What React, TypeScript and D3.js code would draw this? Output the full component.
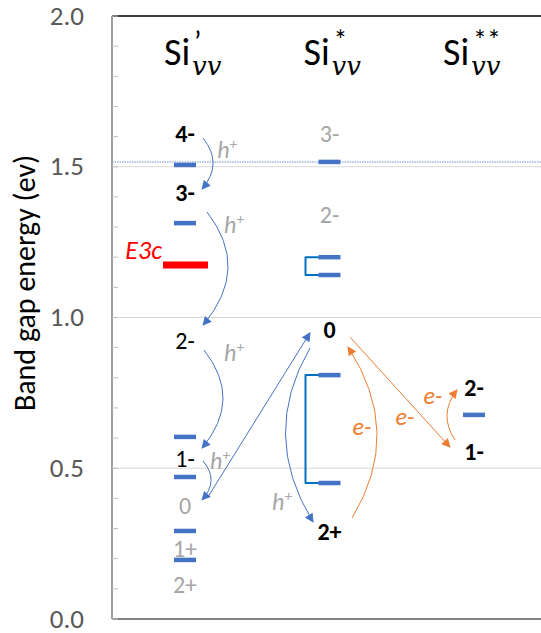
import React from 'react'
import * as d3 from 'd3'

const W = 541
const H = 633
const margin = { top: 16, bottom: 14, left: 112 }

const FONT = 'Carlito, Lato, "Open Sans", sans-serif'
const MATH = '"DejaVu Serif", "Liberation Serif", serif'

// column headers
const HEAD_SUP = ['’', '*', '**']

// axis
const Y_TICKS = [0, 0.5, 1.0, 1.5, 2.0]
const GRID = [0.5, 1.0, 1.5]
const MINOR = d3.range(0, 2.0001, 0.1)
const DOTTED_E = 1.516

// energy levels (column index, eV)
const LEVEL_COL = [0, 0, 0, 0, 0, 0, 1, 1, 1, 1, 1, 2]
const LEVEL_E = [1.506, 1.313, 0.604, 0.471, 0.292, 0.196, 1.516, 1.2, 1.141, 0.809, 0.451, 0.677]

// bracket pairs in middle column
const BRACKET_TOP = [1.2, 0.809]
const BRACKET_BOT = [1.141, 0.451]

const E3C = 1.174

// charge state labels
const LABEL_TEXT = ['4-', '3-', '2-', '1-', '0', '1+', '2+', '3-', '2-', '0', '2+', '2-', '1-']
const LABEL_COL = [0, 0, 0, 0, 0, 0, 0, 1, 1, 1, 1, 2, 2]
const LABEL_E = [1.609, 1.413, 0.925, 0.531, 0.375, 0.235, 0.113, 1.609, 1.34, 0.959, 0.289, 0.769, 0.554]
const LABEL_KIND = ['bold', 'bold', 'plain', 'plain', 'grey', 'grey', 'grey', 'grey', 'grey', 'bold', 'bold', 'bold', 'bold']

// transitions: x in column units, energies in eV, bend in px
const ARROW_X0 = [0.125, 0.152, 0.131, 0.125, 0.159, 0.865, 1.156, 1.142, 1.869]
const ARROW_E0 = [1.595, 1.35, 0.892, 0.524, 0.405, 0.899, 0.335, 0.935, 0.594]
const ARROW_X1 = [0.118, 0.125, 0.118, 0.118, 0.865, 0.886, 1.128, 1.834, 1.882]
const ARROW_E1 = [1.426, 0.975, 0.567, 0.395, 0.949, 0.322, 0.902, 0.57, 0.76]
const ARROW_BEND = [10.5, 23, 20, 8.5, 0, -26, 27, 0, -9]
const ARROW_KIND = ['h', 'h', 'h', 'h', 'h', 'h', 'e', 'e', 'e']

// carrier labels
const CARRIER_KIND = ['h', 'h', 'h', 'h', 'h', 'e', 'e', 'e']
const CARRIER_X = [0.291, 0.339, 0.339, 0.242, 0.671, 1.225, 1.522, 1.716]
const CARRIER_E = [1.556, 1.307, 0.882, 0.527, 0.388, 0.637, 0.67, 0.74]

const BLUE = '#4472C4'
const ORANGE = '#ED7D31'
const GREY = '#A6A6A6'

export default function App() {
  const y = d3.scaleLinear().domain([0, 2]).range([H - margin.bottom, margin.top])
  const x = d3.scaleLinear().domain([0, 2]).range([185, 474])
  const hx = d3.scaleLinear().domain([0, 2]).range([191, 470])
  const barW = 22

  const arrowPath = (i: number) => {
    const x0 = x(ARROW_X0[i]), y0 = y(ARROW_E0[i])
    const x1 = x(ARROW_X1[i]), y1 = y(ARROW_E1[i])
    if (!ARROW_BEND[i]) return `M${x0},${y0}L${x1},${y1}`
    const cx = (x0 + x1) / 2 + 2 * ARROW_BEND[i]
    const cy = (y0 + y1) / 2
    const p = d3.path()
    p.moveTo(x0, y0)
    p.quadraticCurveTo(cx, cy, x1, y1)
    return p.toString()
  }

  return (
    <svg width={W} height={H} style={{ position: 'absolute', left: 0, top: 0, background: '#fff' }}>
      <defs>
        <marker id="ah" viewBox="0 0 10 10" refX="9" refY="5" markerWidth="11" markerHeight="9" markerUnits="userSpaceOnUse" orient="auto">
          <path d="M0,0L10,5L0,10z" fill={BLUE} />
        </marker>
        <marker id="ae" viewBox="0 0 10 10" refX="9" refY="5" markerWidth="11" markerHeight="9" markerUnits="userSpaceOnUse" orient="auto">
          <path d="M0,0L10,5L0,10z" fill={ORANGE} />
        </marker>
      </defs>

      {/* gridlines */}
      {GRID.map(g => (
        <line key={g} x1={margin.left} x2={W} y1={y(g)} y2={y(g)} stroke="#D9D9D9" strokeWidth={1} />
      ))}
      <line x1={margin.left} x2={W} y1={y(DOTTED_E)} y2={y(DOTTED_E)} stroke="#9DB3E0" strokeWidth={1.5} strokeDasharray="1.5 1" />

      {/* frame */}
      <line x1={margin.left} x2={W} y1={y(2)} y2={y(2)} stroke="#000" strokeWidth={1.5} />
      <line x1={margin.left} x2={W} y1={y(0)} y2={y(0)} stroke="#808080" strokeWidth={2} />
      <line x1={margin.left} x2={margin.left} y1={y(2)} y2={y(0)} stroke="#A0A0A0" strokeWidth={2} />
      {MINOR.map((m, i) => (
        <line key={i} x1={margin.left} x2={margin.left + 6} y1={y(m)} y2={y(m)} stroke="#BFBFBF" strokeWidth={1} />
      ))}
      {Y_TICKS.map(t => (
        <text key={t} x={84} y={y(t)} dy="0.32em" textAnchor="end" fontFamily={FONT} fontSize={27} fill="#595959">
          {d3.format('.1f')(t)}
        </text>
      ))}
      <text transform={`translate(35,${283}) rotate(-90)`} textAnchor="middle" fontFamily={FONT} fontSize={30} fill="#000">
        Band gap energy (ev)
      </text>

      {/* headers */}
      {HEAD_SUP.map((s, i) => (
        <text key={i} x={hx(i)} y={65} textAnchor="start" fontFamily={FONT} fontSize={38} fill="#000">
          <tspan x={hx(i) - 27}>Si</tspan>
          <tspan x={hx(i) + 3} y={s === '’' ? 52 : 50} fontSize={s === '’' ? 30 : 28}>{s}</tspan>
          <tspan x={hx(i) + 1} y={75} fontSize={26} fontStyle="italic" fontFamily={MATH}>vv</tspan>
        </text>
      ))}

      {/* red E3c */}
      <line x1={163} x2={208} y1={y(E3C)} y2={y(E3C)} stroke="#FF0000" strokeWidth={7} />
      <text x={162} y={y(1.224)} dy="0.35em" textAnchor="end" fontFamily={FONT} fontSize={26} fontStyle="italic" fill="#FF0000">E3c</text>

      {/* brackets */}
      {BRACKET_TOP.map((t, i) => {
        const xl = x(1) - barW / 2
        return (
          <path key={i} d={`M${xl + 2},${y(t)}H${xl - 13}V${y(BRACKET_BOT[i])}H${xl + 2}`}
            fill="none" stroke="#0070C0" strokeWidth={2} strokeLinejoin="round" />
        )
      })}

      {/* levels */}
      {LEVEL_E.map((e, i) => (
        <line key={i} x1={x(LEVEL_COL[i]) - barW / 2} x2={x(LEVEL_COL[i]) + barW / 2} y1={y(e)} y2={y(e)} stroke={BLUE} strokeWidth={4.5} />
      ))}

      {/* charge labels */}
      {LABEL_TEXT.map((t, i) => (
        <text key={i} x={x(LABEL_COL[i])} y={y(LABEL_E[i])} dy="0.35em" textAnchor="middle" fontFamily={FONT} fontSize={24}
          fontWeight={LABEL_KIND[i] === 'bold' ? 700 : 400} fill={LABEL_KIND[i] === 'grey' ? GREY : '#000'}>
          {t}
        </text>
      ))}

      {/* arrows */}
      {ARROW_KIND.map((k, i) => (
        <path key={i} d={arrowPath(i)} fill="none" stroke={k === 'h' ? BLUE : ORANGE} strokeWidth={1} markerEnd={`url(#a${k})`} />
      ))}

      {/* carrier labels */}
      {CARRIER_KIND.map((k, i) => (
        <text key={i} x={x(CARRIER_X[i])} y={y(CARRIER_E[i])} dy="0.35em" textAnchor="middle" fontFamily={FONT} fontSize={24}
          fontStyle="italic" fill={k === 'h' ? GREY : ORANGE}>
          {k === 'h' ? (
            <>
              h<tspan fontSize={15} dy="-0.6em">+</tspan>
            </>
          ) : 'e-'}
        </text>
      ))}
    </svg>
  )
}
